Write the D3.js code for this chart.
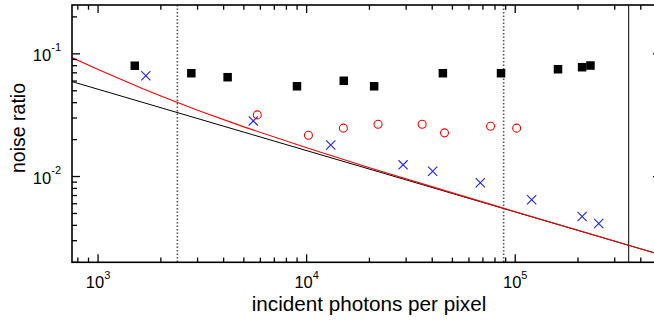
<!DOCTYPE html>
<html>
<head>
<meta charset="utf-8">
<script src="https://cdn.jsdelivr.net/npm/d3@7"></script>
<style>
  html, body { margin: 0; padding: 0; background: #fff; }
  svg { display: block; }
  text { font-family: "Liberation Sans", Arial, sans-serif; fill: #000; }
</style>
</head>
<body>
<svg id="chart" width="654" height="320"></svg>
<script>
// ---- data ----
const squareN   = [1500, 2800, 4180, 8990, 15070, 21070, 45000, 85500, 160400, 209300, 229500];
const squareVal = [0.080, 0.0695, 0.0645, 0.0544, 0.0603, 0.0544, 0.0695, 0.0695, 0.0749, 0.0778, 0.0803];

const circleN   = [5800, 10200, 15000, 22000, 35800, 45800, 76200, 101600];
const circleVal = [0.0318, 0.0217, 0.0248, 0.0267, 0.0267, 0.0227, 0.0257, 0.0248];

const crossN    = [1694, 5550, 13050, 29000, 40200, 68000, 119900, 209300, 251400];
const crossVal  = [0.0662, 0.0284, 0.0181, 0.01245, 0.01105, 0.00889, 0.00646, 0.00472, 0.00414];

const blackLineN   = [750, 500000];
const blackLineVal = [0.0594, 0.0023];

const redLineN   = [750, 1000, 1640, 2000, 3000, 5000, 10000, 20000, 50000, 100000, 200000, 500000];
const redLineVal = [0.0933, 0.0745, 0.052, 0.0453, 0.0347, 0.0254, 0.01715, 0.0118, 0.00736, 0.00517, 0.00365, 0.0023];

const dottedLinesN = [2400, 88000];
const solidLinesN  = [350000];

const xMajorTicks = [1e3, 1e4, 1e5];
const xTickExps   = ["3", "4", "5"];
const yMajorTicks = [1e-1, 1e-2];
const yTickExps   = ["-1", "-2"];

const xTitle = "incident photons per pixel";
const yTitle = "noise ratio";

// ---- layout ----
const svg = d3.select("#chart");
const L = 72, R = 661, T = 5, B = 262.3;

const x = d3.scaleLog().domain([750, 500000]).range([L, R]);
const y = d3.scaleLog().domain([0.002, 0.25]).range([B, T]);

svg.append("rect").attr("width", 654).attr("height", 320).attr("fill", "#fff");

svg.append("defs").append("clipPath").attr("id", "clip")
  .append("rect").attr("x", L).attr("y", T).attr("width", R - L).attr("height", B - T);

const plot = svg.append("g").attr("clip-path", "url(#clip)");

// vertical reference lines
plot.selectAll("line.dot").data(dottedLinesN).join("line")
  .attr("x1", d => x(d)).attr("x2", d => x(d))
  .attr("y1", T).attr("y2", B)
  .attr("stroke", "#555").attr("stroke-width", 1.6)
  .attr("stroke-dasharray", "1.5,2");

plot.selectAll("line.solid").data(solidLinesN).join("line")
  .attr("x1", d => x(d)).attr("x2", d => x(d))
  .attr("y1", T).attr("y2", B)
  .attr("stroke", "#000").attr("stroke-width", 1);

// lines
const line = d3.line().x(d => x(d[0])).y(d => y(d[1]));
plot.append("path")
  .datum(blackLineN.map((n, i) => [n, blackLineVal[i]]))
  .attr("d", line).attr("fill", "none").attr("stroke", "#000").attr("stroke-width", 1);
plot.append("path")
  .datum(redLineN.map((n, i) => [n, redLineVal[i]]))
  .attr("d", line).attr("fill", "none").attr("stroke", "#f00").attr("stroke-width", 1.1);

// markers
const sq = 8.5;
plot.selectAll("rect.sq").data(squareN.map((n, i) => [n, squareVal[i]])).join("rect")
  .attr("x", d => x(d[0]) - sq / 2).attr("y", d => y(d[1]) - sq / 2)
  .attr("width", sq).attr("height", sq).attr("fill", "#000");

plot.selectAll("circle.c").data(circleN.map((n, i) => [n, circleVal[i]])).join("circle")
  .attr("cx", d => x(d[0])).attr("cy", d => y(d[1])).attr("r", 4)
  .attr("fill", "none").attr("stroke", "#f00").attr("stroke-width", 1.1);

const cs = 4.6;
plot.selectAll("path.x").data(crossN.map((n, i) => [n, crossVal[i]])).join("path")
  .attr("d", d => {
    const cx = x(d[0]), cy = y(d[1]);
    return `M${cx - cs},${cy - cs}L${cx + cs},${cy + cs}M${cx - cs},${cy + cs}L${cx + cs},${cy - cs}`;
  })
  .attr("fill", "none").attr("stroke", "#1f1fff").attr("stroke-width", 1.1);

// ---- axes ----
const xMinor = [];
for (let e = 2; e <= 5; e++) for (let m = 1; m <= 9; m++) {
  const v = m * Math.pow(10, e);
  if (v >= 750 && v <= 500000 && m !== 1) xMinor.push(v);
}
const yMinor = [];
for (let e = -3; e <= -1; e++) for (let m = 2; m <= 9; m++) {
  const v = m * Math.pow(10, e);
  if (v >= 0.002 && v <= 0.25) yMinor.push(v);
}

const axisG = svg.append("g");
const tickLineX = (vals, len) => {
  axisG.selectAll(null).data(vals).join("line")
    .attr("x1", d => x(d)).attr("x2", d => x(d)).attr("y1", B).attr("y2", B - len)
    .attr("stroke", "#000").attr("stroke-width", 1.3);
  axisG.selectAll(null).data(vals).join("line")
    .attr("x1", d => x(d)).attr("x2", d => x(d)).attr("y1", T).attr("y2", T + len)
    .attr("stroke", "#000").attr("stroke-width", 1.3);
};
tickLineX(xMinor, 4.7);
tickLineX(xMajorTicks, 8);

const tickLineY = (vals, len) => {
  axisG.selectAll(null).data(vals).join("line")
    .attr("y1", d => y(d)).attr("y2", d => y(d)).attr("x1", L).attr("x2", L + len)
    .attr("stroke", "#000").attr("stroke-width", 1.3);
  axisG.selectAll(null).data(vals).join("line")
    .attr("y1", d => y(d)).attr("y2", d => y(d)).attr("x1", R).attr("x2", R - len)
    .attr("stroke", "#000").attr("stroke-width", 1.3);
};
tickLineY(yMinor, 5);
tickLineY(yMajorTicks, 8);

// frame
axisG.append("rect").attr("x", L).attr("y", T).attr("width", R - L).attr("height", B - T)
  .attr("fill", "none").attr("stroke", "#000").attr("stroke-width", 1.6);

// tick labels
const xl = svg.append("g").selectAll("text").data(xMajorTicks).join("text")
  .attr("x", d => x(d)).attr("y", B + 25.5).attr("text-anchor", "middle")
  .attr("font-size", 16.5);
xl.append("tspan").text("10");
xl.append("tspan").attr("dy", -9).attr("font-size", 11).text((d, i) => xTickExps[i]);

const yl = svg.append("g").selectAll("text").data(yMajorTicks).join("text")
  .attr("x", 61).attr("y", d => y(d) + 7.5).attr("text-anchor", "end")
  .attr("font-size", 16.5);
yl.append("tspan").text("10");
yl.append("tspan").attr("dy", -10).attr("font-size", 11).text((d, i) => yTickExps[i]);

// titles
svg.append("text").attr("x", 369).attr("y", 311).attr("text-anchor", "middle")
  .attr("font-size", 20.7).text(xTitle);
svg.append("text").attr("transform", "translate(25,128) rotate(-90)")
  .attr("text-anchor", "middle").attr("font-size", 19.5).text(yTitle);
</script>
</body>
</html>
